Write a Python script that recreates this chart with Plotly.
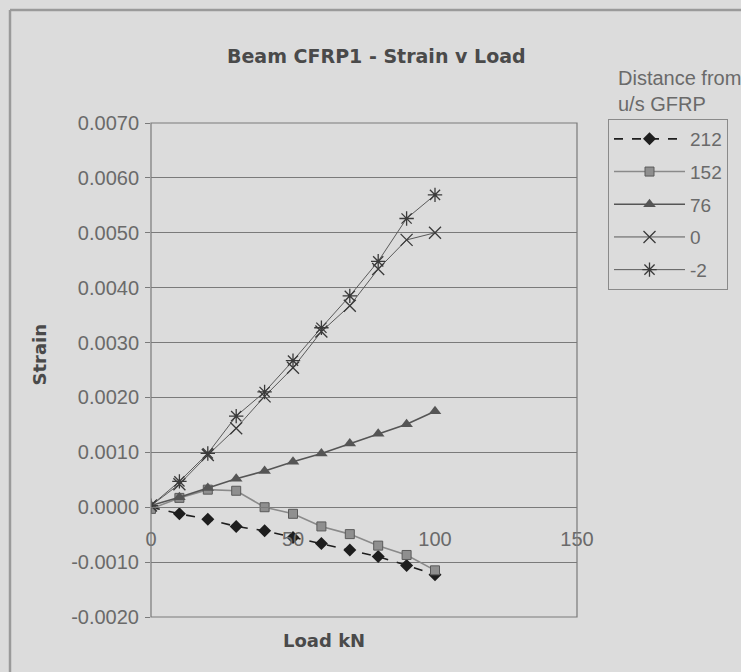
import plotly.graph_objects as go

load = [0, 10, 20, 30, 40, 50, 60, 70, 80, 90, 100]
s212 = [0.0, -0.00012, -0.00022, -0.00035, -0.00043, -0.00055, -0.00066, -0.00078, -0.00090, -0.00106, -0.00123]
s152 = [-0.00003, 0.00017, 0.00032, 0.00030, 0.0, -0.00012, -0.00035, -0.00049, -0.00070, -0.00087, -0.00115]
s76 = [0.00003, 0.00018, 0.00035, 0.00052, 0.00066, 0.00083, 0.00098, 0.00116, 0.00134, 0.00151, 0.00175]
s0 = [0.00003, 0.00042, 0.00095, 0.00144, 0.00202, 0.00254, 0.00320, 0.00367, 0.00434, 0.00487, 0.00500]
sm2 = [0.00003, 0.00047, 0.00098, 0.00166, 0.00210, 0.00267, 0.00327, 0.00385, 0.00448, 0.00526, 0.00569]

names = ["212", "152", "76", "0", "-2"]
series = [s212, s152, s76, s0, sm2]

xtick_vals = [0, 50, 100, 150]
ytick_vals = [-0.002, -0.001, 0.0, 0.001, 0.002, 0.003, 0.004, 0.005, 0.006, 0.007]
ytick_text = ["-0.0020", "-0.0010", "0.0000", "0.0010", "0.0020",
              "0.0030", "0.0040", "0.0050", "0.0060", "0.0070"]

BG = "#dcdcdc"
GRID = "#7a7a7a"
TXT = "#6a6a6a"
DARK = "#4a4a4a"

styles = [
    dict(line=dict(color="#1e1e1e", width=1.6, dash="dash"),
         marker=dict(symbol="diamond", size=10, color="#1e1e1e")),
    dict(line=dict(color="#8a8a8a", width=1.6),
         marker=dict(symbol="square", size=9, color="#8f8f8f",
                     line=dict(color="#5a5a5a", width=1))),
    dict(line=dict(color="#555555", width=1.6),
         marker=dict(symbol="triangle-up", size=11, color="#555555")),
    dict(line=dict(color="#5a5a5a", width=1),
         marker=dict(symbol="x-thin-open", size=12, color="#3a3a3a",
                     line=dict(color="#3a3a3a", width=1.3))),
    dict(line=dict(color="#5a5a5a", width=1),
         marker=dict(symbol="asterisk-open", size=12, color="#3a3a3a",
                     line=dict(color="#3a3a3a", width=1.3))),
]

fig = go.Figure()
for i, (nm, ys, st) in enumerate(zip(names, series, styles)):
    fig.add_trace(go.Scatter(x=load, y=ys, name=nm, mode="lines+markers",
                             legendgroup="g%d" % i, **st))

L, R, T, B = 151, 577, 123, 617
W, H = 741, 672
pw, ph = R - L, B - T

def px(xp):
    return (xp - L) / pw

def py(yp):
    return (B - yp) / ph

fig.update_layout(
    width=W, height=H,
    margin=dict(l=L, r=W - R, t=T, b=H - B, pad=0),
    paper_bgcolor=BG, plot_bgcolor=BG,
    font=dict(family="Liberation Sans, Arial", size=20, color=TXT),
    showlegend=True,
    legend=dict(x=px(608), y=py(119), xanchor="left", yanchor="top",
                bgcolor="rgba(0,0,0,0)", bordercolor="#8a8a8a", borderwidth=1,
                font=dict(family="Liberation Sans, Arial", size=19, color=TXT),
                itemwidth=71, tracegroupgap=5, traceorder="grouped"),
    xaxis=dict(range=[0, 150], tickvals=xtick_vals,
               anchor="free", position=2 / 9, showgrid=False, zeroline=False,
               showline=True, linecolor=GRID, linewidth=1,
               ticks="", ticklabelstandoff=14,
               tickfont=dict(size=20, color=TXT)),
    yaxis=dict(range=[-0.002, 0.007], tickvals=ytick_vals, ticktext=ytick_text,
               showgrid=True, gridcolor=GRID, gridwidth=1,
               zeroline=False, showline=False,
               ticks="outside", ticklen=5, tickcolor=GRID,
               ticklabelstandoff=2,
               tickfont=dict(size=20, color=TXT)),
    annotations=[
        dict(text="<b>Beam CFRP1 - Strain v Load</b>", xref="paper", yref="paper",
             x=px(376), y=py(43), showarrow=False,
             font=dict(family="DejaVu Sans", size=19, color=DARK)),
        dict(text="<b>Load kN</b>", xref="paper", yref="paper",
             x=px(324), y=py(653), showarrow=False,
             font=dict(family="DejaVu Sans", size=18, color=DARK)),
        dict(text="<b>Strain</b>", xref="paper", yref="paper",
             x=px(26), y=py(355), showarrow=False, textangle=-90,
             font=dict(family="DejaVu Sans", size=18, color=DARK)),
        dict(text="Distance from<br>u/s GFRP", xref="paper", yref="paper",
             x=px(616), y=py(65), xanchor="left", yanchor="top", align="left",
             showarrow=False,
             font=dict(family="Liberation Sans, Arial", size=20, color=TXT)),
    ],
    shapes=[
        dict(type="rect", xref="paper", yref="paper", x0=0, x1=1, y0=0, y1=1,
             line=dict(color=GRID, width=1.2)),
        dict(type="line", xref="paper", yref="paper",
             x0=px(10), x1=px(741), y0=py(10), y1=py(10),
             line=dict(color="#9a9a9a", width=2.5)),
        dict(type="line", xref="paper", yref="paper",
             x0=px(10), x1=px(10), y0=py(10), y1=py(672),
             line=dict(color="#9a9a9a", width=2.5)),
    ],
)

fig.write_html("out.html")
